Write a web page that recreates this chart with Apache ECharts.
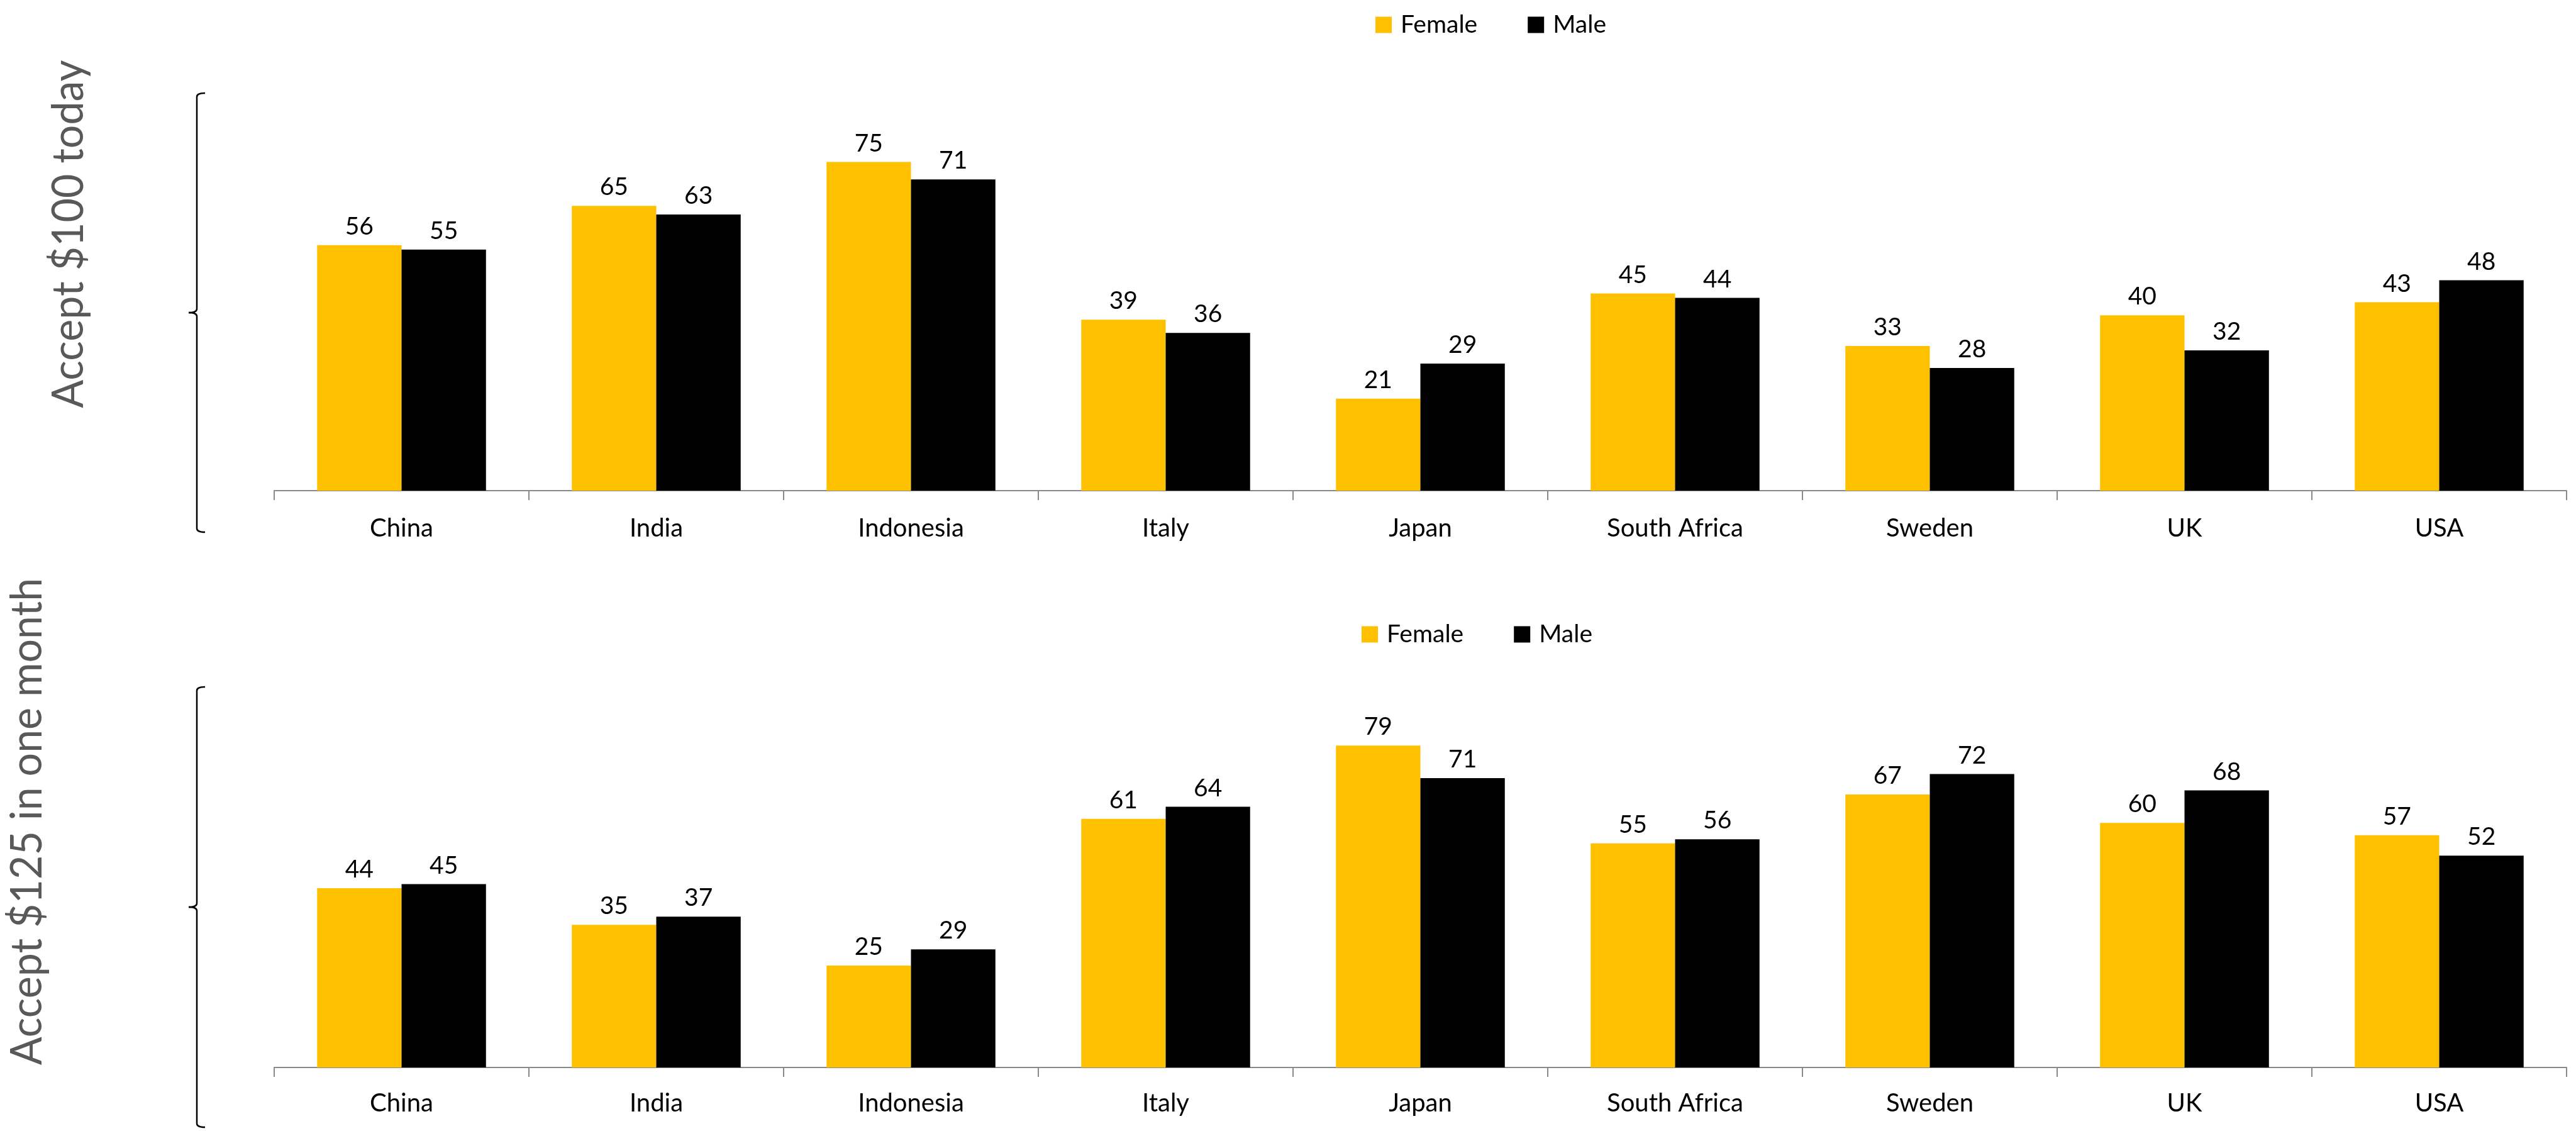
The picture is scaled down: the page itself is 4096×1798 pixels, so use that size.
<!DOCTYPE html>
<html>
<head>
<meta charset="utf-8">
<script src="https://cdn.jsdelivr.net/npm/echarts@6/dist/echarts.min.js"></script>
<style>
  html, body { margin: 0; padding: 0; background: #ffffff; }
  #chart { width: 4096px; height: 1798px; }
</style>
</head>
<body>
<div id="chart"></div>
<script>
// Countries on both panels
const countries = ['China', 'India', 'Indonesia', 'Italy', 'Japan', 'South Africa', 'Sweden', 'UK', 'USA'];

// Share accepting $100 today (%)
const todayFemale = [56, 65, 75, 39, 21, 45, 33, 40, 43];
const todayMale   = [55, 63, 71, 36, 29, 44, 28, 32, 48];

// Share accepting $125 in one month (%)
const monthFemale = [44, 35, 25, 61, 79, 55, 67, 60, 57];
const monthMale   = [45, 37, 29, 64, 71, 56, 72, 68, 52];

const panelTitles = ['Accept $100 today', 'Accept $125 in one month'];
const seriesNames = ['Female', 'Male'];

const GOLD = '#FFC000';
const BLACK = '#000000';
const AXIS_GRAY = '#898989';
const TITLE_GRAY = '#595959';
const FONT = 'Lato, "Open Sans", sans-serif';

const chart = echarts.init(document.getElementById('chart'));

function xAxisFor(gridIndex, margin) {
  return {
    type: 'category',
    gridIndex: gridIndex,
    data: countries,
    axisLine: { show: true, lineStyle: { color: AXIS_GRAY, width: 2 } },
    axisTick: { show: true, length: 15, lineStyle: { color: AXIS_GRAY, width: 2 } },
    axisLabel: { color: '#000', fontFamily: FONT, fontSize: 40, margin: margin },
    splitLine: { show: false }
  };
}

function yAxisFor(gridIndex) {
  return {
    type: 'value',
    gridIndex: gridIndex,
    min: 0,
    max: 90,
    show: false,
    splitLine: { show: false }
  };
}

function barSeries(name, data, color, axisIndex) {
  return {
    type: 'bar',
    name: name,
    data: data,
    xAxisIndex: axisIndex,
    yAxisIndex: axisIndex,
    barGap: '0%',
    barCategoryGap: '33.7%',
    itemStyle: { color: color },
    label: {
      show: true,
      position: 'top',
      distance: 10,
      color: '#000',
      fontFamily: FONT,
      fontSize: 39
    },
    emphasis: { disabled: true },
    animation: false
  };
}

function legendAt(left, top) {
  return {
    data: seriesNames,
    left: left,
    top: top,
    orient: 'horizontal',
    icon: 'rect',
    itemWidth: 26,
    itemHeight: 26,
    itemGap: 80,
    padding: 0,
    selectedMode: false,
    textStyle: { color: '#000', fontFamily: FONT, fontSize: 39, padding: [0, 0, 0, 9] }
  };
}

// Left-hand curly brace grouping each panel with its title:
// a vertical stroke with hooks at both ends and a point at the middle.
function brace(x, y0, y1) {
  const mid = (y0 + y1) / 2;
  const hook = 13;
  const style = { fill: null, stroke: '#000', lineWidth: 2.5 };
  const parts = [];
  parts.push({ type: 'line', shape: { x1: x, y1: y0 + 6, x2: x, y2: mid - 6 }, style: style });
  parts.push({ type: 'line', shape: { x1: x, y1: mid + 6, x2: x, y2: y1 - 6 }, style: style });
  parts.push({ type: 'bezierCurve', shape: { x1: x, y1: y0 + 6, cpx1: x, cpy1: y0, x2: x + hook, y2: y0 }, style: style });
  parts.push({ type: 'bezierCurve', shape: { x1: x, y1: y1 - 6, cpx1: x, cpy1: y1, x2: x + hook, y2: y1 }, style: style });
  parts.push({ type: 'bezierCurve', shape: { x1: x, y1: mid - 6, cpx1: x, cpy1: mid, x2: x - hook, y2: mid }, style: style });
  parts.push({ type: 'bezierCurve', shape: { x1: x, y1: mid + 6, cpx1: x, cpy1: mid, x2: x - hook, y2: mid }, style: style });
  return { type: 'group', children: parts };
}

function titleText(text, cx, cy) {
  return {
    type: 'text',
    x: cx,
    y: cy,
    rotation: Math.PI / 2,
    scaleX: 0.96,
    style: {
      text: text,
      font: '69px ' + FONT,
      fill: TITLE_GRAY,
      align: 'center',
      verticalAlign: 'middle'
    }
  };
}

const option = {
  backgroundColor: '#ffffff',
  animation: false,
  legend: [legendAt(2187, 20), legendAt(2165, 989)],
  grid: [
    { left: 436, right: 15, top: 153, height: 627, containLabel: false },
    { left: 436, right: 15, top: 1114, height: 583, containLabel: false }
  ],
  xAxis: [xAxisFor(0, 40), xAxisFor(1, 37)],
  yAxis: [yAxisFor(0), yAxisFor(1)],
  series: [
    barSeries(seriesNames[0], todayFemale, GOLD, 0),
    barSeries(seriesNames[1], todayMale, BLACK, 0),
    barSeries(seriesNames[0], monthFemale, GOLD, 1),
    barSeries(seriesNames[1], monthMale, BLACK, 1)
  ],
  graphic: [
    titleText(panelTitles[0], 110, 372),
    titleText(panelTitles[1], 44, 1306),
    brace(313, 148, 846),
    brace(313, 1092, 1792)
  ]
};

chart.setOption(option);
</script>
</body>
</html>
